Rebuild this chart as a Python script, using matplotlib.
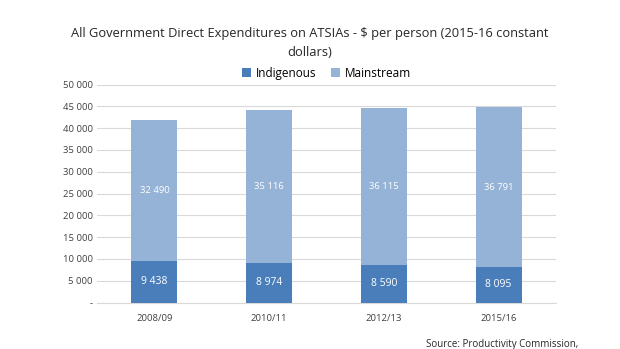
from matplotlib import pyplot as plt

years = ["2008/09", "2010/11", "2012/13", "2015/16"]
indigenous = [9438, 8974, 8590, 8095]
mainstream = [32490, 35116, 36115, 36791]
yticks = [0, 5000, 10000, 15000, 20000, 25000, 30000, 35000, 40000, 45000, 50000]
ytick_labels = ["-", "5 000", "10 000", "15 000", "20 000", "25 000",
                "30 000", "35 000", "40 000", "45 000", "50 000"]


def fmt(v):
    return f"{v:,}".replace(",", " ")


plt.rcParams["font.family"] = ["Open Sans", "DejaVu Sans"]

fig = plt.figure(figsize=(6.2, 3.49), dpi=100)
ax = fig.add_axes([97 / 620, 1 - 302.5 / 349, 459 / 620, 218 / 349])

xs = list(range(len(years)))
b1 = ax.bar(xs, indigenous, width=0.4, color="#4a7ebb", label="Indigenous", zorder=3)
b2 = ax.bar(xs, mainstream, width=0.4, bottom=indigenous, color="#95b3d7",
            label="Mainstream", zorder=3)
ax.bar_label(b1, labels=[fmt(v) for v in indigenous], label_type="center",
             color="white", fontsize=7.5)
ax.bar_label(b2, labels=[fmt(v) for v in mainstream], label_type="center",
             color="white", fontsize=6.8)

ax.set_xlim(-0.5, len(years) - 0.5)
ax.set_ylim(0, 50000)
ax.set_yticks(yticks, ytick_labels)
ax.set_xticks(xs, years)
ax.tick_params(axis="both", length=0, labelsize=6.8, colors="#404040")
ax.tick_params(axis="y", pad=3)
ax.tick_params(axis="x", pad=8)
ax.grid(axis="y", color="#d9d9d9", linewidth=0.8, zorder=0)
for s in ["left", "right", "top"]:
    ax.spines[s].set_visible(False)
ax.spines["bottom"].set_color("#d9d9d9")

fig.text(0.5, 1 - 43 / 349,
         "All Government Direct Expenditures on ATSIAs - $ per person (2015-16 constant\ndollars)",
         ha="center", va="center", fontsize=9.3, color="#262626", linespacing=1.5)
ax.legend(loc="lower center", bbox_to_anchor=(0.5, 1.0), ncol=2, frameon=False,
          fontsize=8.5, handlelength=0.8, handleheight=0.8, columnspacing=1.2,
          handletextpad=0.4, borderaxespad=0)
fig.text(578 / 620, 1 - 344 / 349, "Source: Productivity Commission,",
         ha="right", va="center", fontsize=7, color="#262626")

fig.savefig("out.png", dpi=100)
